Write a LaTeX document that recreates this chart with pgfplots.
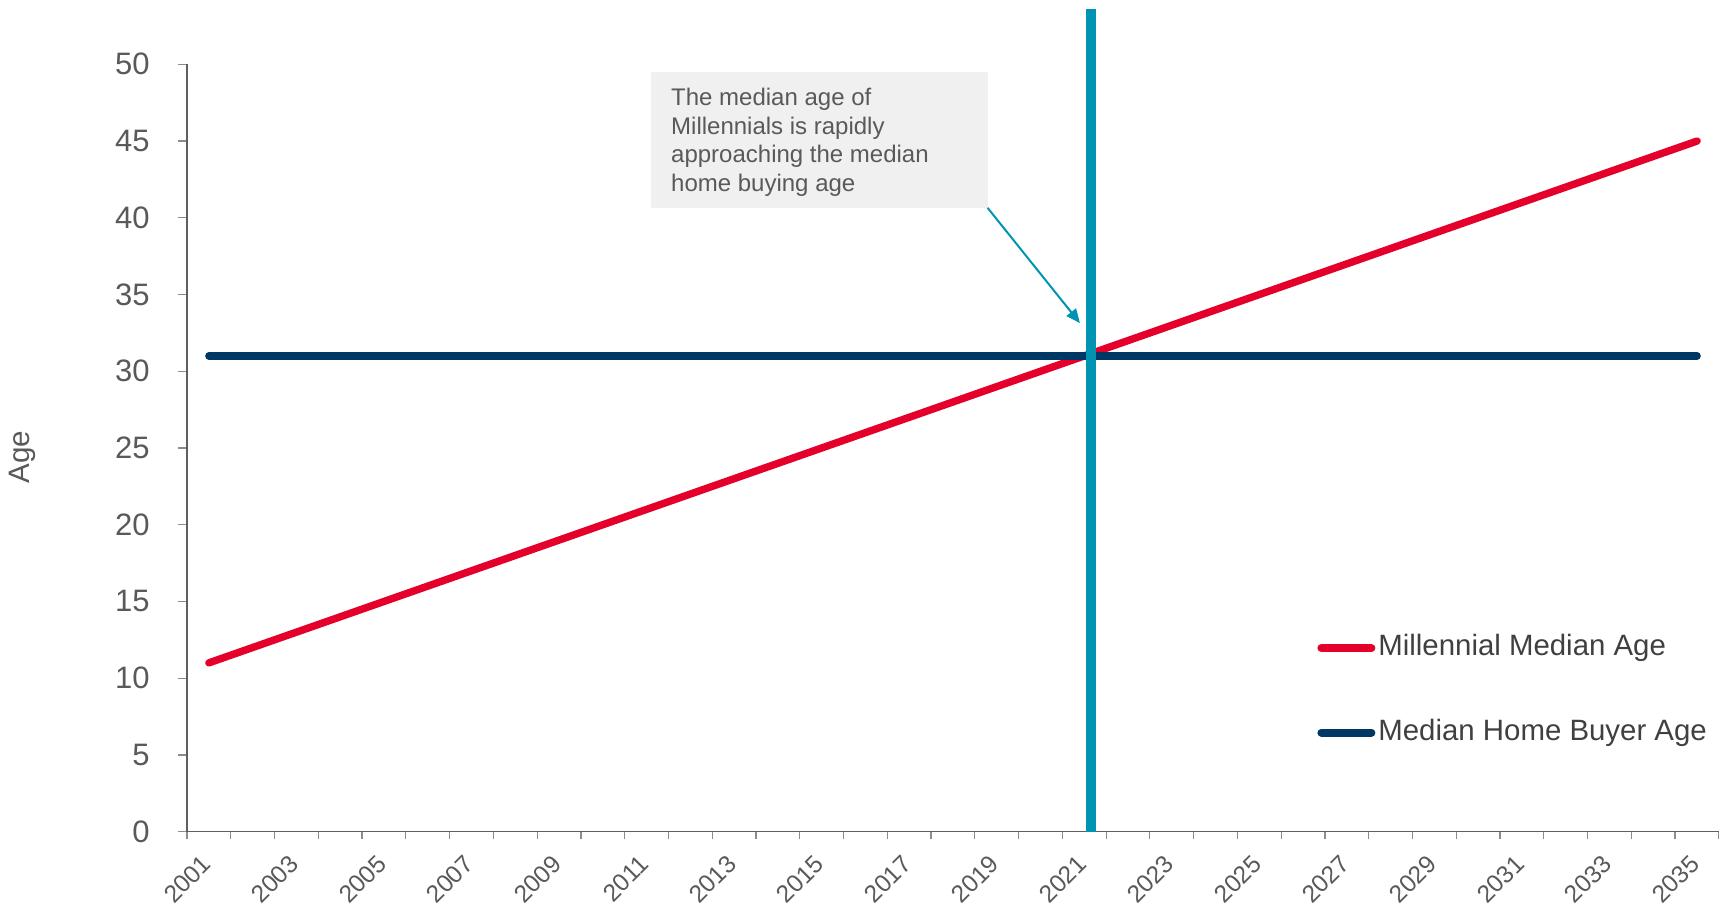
\documentclass[border=0pt]{standalone}
\usepackage{fontspec}
\setmainfont{Liberation Sans}
\usepackage{pgfplots}
\pgfplotsset{compat=1.18}
\usetikzlibrary{arrows.meta}
\definecolor{cred}{HTML}{E4002B}
\definecolor{cnavy}{HTML}{003865}
\definecolor{cteal}{HTML}{0093B2}
\definecolor{cbox}{HTML}{F0F0F0}
\definecolor{ctext}{HTML}{595959}
\definecolor{clegend}{HTML}{404040}
\definecolor{caxis}{HTML}{5F5F5F}
\definecolor{ctick}{HTML}{8C8C8C}
\begin{document}
\begin{tikzpicture}
\useasboundingbox (-93.5pt,-38.65pt) rectangle (771.5pt,415.85pt);
\begin{axis}[
  at={(0pt,0pt)}, anchor=south west,
  scale only axis, width=766pt, height=383.7pt,
  xmin=2000.5, xmax=2035.5, ymin=0, ymax=50,
  clip=false,
  axis x line*=bottom, axis y line*=left,
  axis line style={-, caxis, line width=0.75pt},
  tick align=outside,
  xtick={2001,2003,...,2035},
  minor xtick={2000.5,2001.5,...,2035.5},
  ytick={0,5,...,50},
  major tick length=4.5pt, minor tick length=3.9pt,
  major x tick style={draw=none},
  minor x tick style={ctick, line width=0.6pt},
  major y tick style={ctick, line width=0.6pt},
  /pgf/number format/1000 sep={},
  /pgf/number format/assume math mode=true,
  xticklabel style={font=\fontsize{12.25}{14}\selectfont, text=ctext, rotate=45, anchor=north east, inner sep=0pt, xshift=-7.42pt, yshift=-1.48pt},
  yticklabel style={font=\fontsize{15.5}{18}\selectfont, text=ctext, anchor=east, inner sep=0pt, xshift=-14pt},
  ylabel={Age},
  ylabel style={font=\fontsize{14.8}{18}\selectfont, text=ctext, at={(axis description cs:-0.1072,0.4883)}, anchor=center, inner sep=0pt},
  legend style={at={(axis description cs:0.7376,0.2576)}, anchor=north west, draw=none, fill=none, inner sep=0pt, row sep=28.5pt, column sep=1.5pt, font=\fontsize{14.7}{17}\selectfont, text=clegend, nodes={inner sep=0pt, text height=10.7pt, text depth=3pt}},
  legend cell align=left,
  legend image code/.code={\draw[#1, line width=4pt, line cap=round] (2pt,0pt) -- (27pt,0pt);},
]
\fill[cbox] (axis cs:2011.10,49.51) rectangle (axis cs:2018.79,40.65);
\node[anchor=north west, inner sep=0pt, align=left, font=\fontsize{12}{14.4}\selectfont, text=ctext] at (axis cs:2011.553,48.49) {The median age of\\Millennials is rapidly\\approaching the median\\home buying age};
\addplot[cred, line width=3.7pt, line cap=round, line join=round] coordinates {
(2001,11) (2002,12) (2003,13) (2004,14) (2005,15) (2006,16) (2007,17) (2008,18) (2009,19) (2010,20)
(2011,21) (2012,22) (2013,23) (2014,24) (2015,25) (2016,26) (2017,27) (2018,28) (2019,29) (2020,30)
(2021,31) (2022,32) (2023,33) (2024,34) (2025,35) (2026,36) (2027,37) (2028,38) (2029,39) (2030,40)
(2031,41) (2032,42) (2033,43) (2034,44) (2035,45)};
\addlegendentry{Millennial Median Age}
\addplot[cnavy, line width=3.7pt, line cap=round, line join=round] coordinates {
(2001,31) (2002,31) (2003,31) (2004,31) (2005,31) (2006,31) (2007,31) (2008,31) (2009,31) (2010,31)
(2011,31) (2012,31) (2013,31) (2014,31) (2015,31) (2016,31) (2017,31) (2018,31) (2019,31) (2020,31)
(2021,31) (2022,31) (2023,31) (2024,31) (2025,31) (2026,31) (2027,31) (2028,31) (2029,31) (2030,31)
(2031,31) (2032,31) (2033,31) (2034,31) (2035,31)};
\addlegendentry{Median Home Buyer Age}
\addplot[cteal, line width=4.8pt, forget plot] coordinates {(2021.15,0) (2021.15,53.6)};
\draw[cteal, line width=1pt, -{Triangle[length=7pt,width=6pt]}] (axis cs:2018.79,40.65) -- (axis cs:2020.90,33.14);
\end{axis}
\end{tikzpicture}
\end{document}
